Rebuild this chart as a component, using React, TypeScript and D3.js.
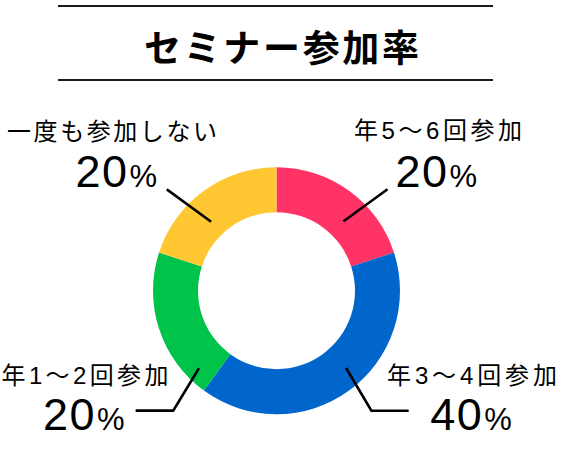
import React from "react";
import * as d3 from "d3";

const title = "セミナー参加率";
const categories = ["年5〜6回参加", "年3〜4回参加", "年1〜2回参加", "一度も参加しない"];
const values = [20, 40, 20, 20];
const colors = ["#FF3366", "#0066CC", "#00C34A", "#FFC833"];

const W = 561;
const H = 465;
const cx = 276.5;
const cy = 290.7;
const outerR = 123.5;
const innerR = 78.5;

// label layout per slice (annotation positions)
const labelLayout = [
  { tx: 354, ty: 139, tw: 168, nx: 395.4, ny: 186.5, a: 44, r: 96.5, elbow: [44, -32], tail: 0 },
  { tx: 387, ty: 383.5, tw: 170, nx: 430.2, ny: 430, a: 138, r: 104, elbow: [25.3, 42.7], tail: 37.3 },
  { tx: 1.5, ty: 383.5, tw: 167, nx: 43, ny: 430, a: 225, r: 109.7, elbow: [-25.7, 42.4], tail: -37.6 },
  { tx: 7, ty: 140, tw: 210, nx: 75.4, ny: 186.5, a: -43.5, r: 95, elbow: [-44.3, -32.4], tail: 0 },
];

export default function App() {
  const pie = d3.pie<number>().sort(null).value((d) => d);
  const arcs = pie(values);
  const arc = d3.arc<d3.PieArcDatum<number>>().innerRadius(innerR).outerRadius(outerR);
  const jp = "'Noto Sans CJK JP', 'Noto Sans', sans-serif";
  const lbl = "'Liberation Sans', 'Noto Sans CJK JP', sans-serif";
  const num = "'Liberation Sans', Arial, sans-serif";

  return (
    <svg
      width={W}
      height={H}
      style={{ position: "absolute", left: 0, top: 0, background: "#fff" }}
    >
      <line x1={58} x2={493} y1={6} y2={6} stroke="#1a1a1a" strokeWidth={2} />
      <line x1={58} x2={493} y1={80} y2={80} stroke="#1a1a1a" strokeWidth={2} />
      <text
        x={144}
        y={62}
        fontFamily={jp}
        fontWeight={700}
        fontSize={37}
        textLength={275}
        lengthAdjust="spacing"
        fill="#000"
      >
        {title}
      </text>
      <g transform={`translate(${cx},${cy})`}>
        {arcs.map((a, i) => (
          <path key={i} d={arc(a) || ""} fill={colors[i]} />
        ))}
      </g>
      {arcs.map((a, i) => {
        const L = labelLayout[i];
        const [px, py] = d3.pointRadial((L.a * Math.PI) / 180, L.r);
        const x0 = cx + px;
        const y0 = cy + py;
        const x1 = x0 + L.elbow[0];
        const y1 = y0 + L.elbow[1];
        const pts: [number, number][] = [
          [x0, y0],
          [x1, y1],
        ];
        if (L.tail !== 0) pts.push([x1 + L.tail, y1]);
        const line = d3.line();
        return (
          <g key={"l" + i}>
            <path d={line(pts) || ""} fill="none" stroke="#000" strokeWidth={2.6} />
            <text
              x={L.tx}
              y={L.ty}
              fontFamily={lbl}
              fontSize={24}
              textLength={L.tw}
              lengthAdjust="spacing"
              fill="#000"
            >
              {categories[i]}
            </text>
            <text x={L.nx} y={L.ny} fontFamily={num} fontSize={45} letterSpacing={1.5} fill="#000">
              {a.data}
              <tspan fontSize={31} dx={1}>
                %
              </tspan>
            </text>
          </g>
        );
      })}
    </svg>
  );
}
